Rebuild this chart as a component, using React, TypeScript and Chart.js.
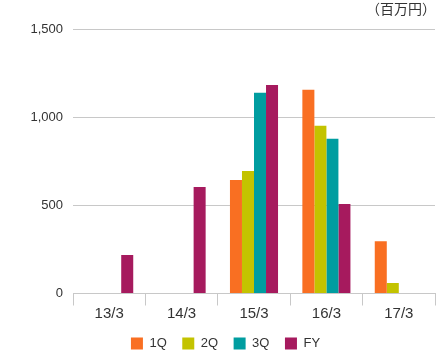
import React, { useEffect, useRef } from "react";
import { Chart, registerables } from "chart.js";

Chart.register(...registerables);

const categories = ["13/3", "14/3", "15/3", "16/3", "17/3"];
const seriesNames = ["1Q", "2Q", "3Q", "FY"];
const q1 = [null, null, 644, 1155, 297];
const q2 = [null, null, 695, 951, 60];
const q3 = [null, null, 1138, 877, null];
const fy = [218, 604, 1183, 507, null];
const colors = ["#F96F22", "#C3C300", "#009DA0", "#A61A5E"];
const unitLabel = "（百万円）";
const yMax = 1500;
const yStep = 500;

const FONT = "'Liberation Sans', 'Noto Sans CJK JP', sans-serif";
const CJK = "'Noto Sans CJK JP', sans-serif";

export default function App() {
  const ref = useRef<HTMLCanvasElement>(null);
  useEffect(() => {
    const ctx = ref.current!;
    const unitPlugin = {
      id: "unitLabel",
      afterDraw(chart: any) {
        const c = chart.ctx;
        c.save();
        c.font = `14px ${CJK}`;
        c.fillStyle = "#333";
        c.textAlign = "right";
        c.textBaseline = "alphabetic";
        c.fillText(unitLabel, 436, 14);
        c.restore();
      },
    };
    const allSeries = [q1, q2, q3, fy];
    const chart = new Chart(ctx, {
      type: "bar",
      data: {
        labels: categories,
        datasets: allSeries.map((d, i) => ({
          label: seriesNames[i],
          data: d,
          backgroundColor: colors[i],
          borderWidth: 0,
          categoryPercentage: 0.664,
          barPercentage: 1.0,
        })),
      },
      options: {
        animation: false,
        responsive: false,
        maintainAspectRatio: false,
        locale: "en-US",
        layout: { padding: { top: 29, left: 16, right: 1, bottom: 0 } },
        plugins: {
          title: { display: false },
          tooltip: { enabled: false },
          legend: {
            position: "bottom",
            labels: {
              boxWidth: 12,
              boxHeight: 12,
              padding: 15.5,
              color: "#333",
              font: { family: FONT, size: 13 },
            },
          },
        },
        scales: {
          x: {
            offset: true,
            grid: {
              offset: true,
              drawOnChartArea: false,
              drawTicks: true,
              tickLength: 12,
              color: "#c8c8c8",
            },
            border: { color: "#c8c8c8", width: 1 },
            ticks: {
              padding: -1,
              color: "#333",
              font: { family: FONT, size: 15 },
              maxRotation: 0,
            },
            afterFit(scale: any) {
              scale.height = 28;
            },
          },
          y: {
            min: 0,
            max: yMax,
            ticks: {
              stepSize: yStep,
              padding: 10,
              color: "#333",
              font: { family: FONT, size: 13 },
            },
            grid: { color: "#c8c8c8", drawTicks: false },
            border: { display: false },
            afterFit(scale: any) {
              scale.width = 57;
            },
          },
        },
      },
      plugins: [unitPlugin],
    });
    return () => chart.destroy();
  }, []);
  return (
    <div style={{ position: "absolute", left: 0, top: 0, width: 436, height: 360, background: "#fff" }}>
      <canvas ref={ref} width={436} height={360} style={{ display: "block" }} />
    </div>
  );
}
